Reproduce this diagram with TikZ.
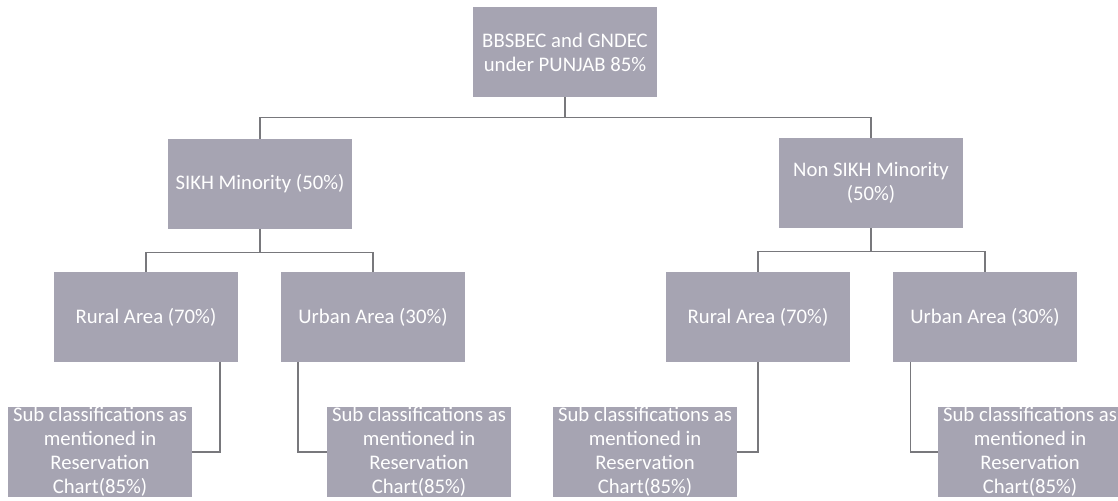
\documentclass[tikz,border=0pt]{standalone}
\usepackage{fontspec}
\setmainfont{Carlito}
\usepackage{xcolor}
\usetikzlibrary{positioning}

\definecolor{boxgrey}{RGB}{166,164,178}
\definecolor{linegrey}{RGB}{120,120,124}

\begin{document}
\begin{tikzpicture}[
          x=0.02cm, y=-0.02cm,
          every node/.style={fill=boxgrey, text=white, align=center,
            minimum width=3.68cm, minimum height=1.8cm, inner sep=0pt,
            font=\fontsize{11.8}{13.6}\selectfont},
          link/.style={draw=linegrey, line width=0.6pt}
        ]
          \useasboundingbox (0,0) rectangle (1118,500);
          % top
          \node (root) at (565,52) {BBSBEC and GNDEC\\under PUNJAB 85\%};
          % minority level
          \node (sikh) at (260,184) {SIKH Minority (50\%)};
          \node (nonsikh) at (871,183) {Non SIKH Minority\\(50\%)};
          % area level
          \node (ruralA) at (146,317) {Rural Area (70\%)};
          \node (urbanA) at (373,317) {Urban Area (30\%)};
          \node (ruralB) at (758,317) {Rural Area (70\%)};
          \node (urbanB) at (985,317) {Urban Area (30\%)};
          % sub classifications
          \node (subA) at (100,452) {Sub classifications as\\mentioned in\\Reservation\\Chart(85\%)};
          \node (subB) at (419,452) {Sub classifications as\\mentioned in\\Reservation\\Chart(85\%)};
          \node (subC) at (645,452) {Sub classifications as\\mentioned in\\Reservation\\Chart(85\%)};
          \node (subD) at (1030,452) {Sub classifications as\\mentioned in\\Reservation\\Chart(85\%)};

          \draw[link] (root.south) -- ++(0cm,-0.4cm) -| (sikh.north);
          \draw[link] (root.south) -- ++(0cm,-0.4cm) -| (nonsikh.north);
          \draw[link] (sikh.south) -- ++(0cm,-0.46cm) -| (ruralA.north);
          \draw[link] (sikh.south) -- ++(0cm,-0.46cm) -| (urbanA.north);
          \draw[link] (nonsikh.south) -- ++(0cm,-0.46cm) -| (ruralB.north);
          \draw[link] (nonsikh.south) -- ++(0cm,-0.46cm) -| (urbanB.north);
          \draw[link] ([xshift=1.48cm]ruralA.south) |- (subA.east);
          \draw[link] ([xshift=-1.5cm]urbanA.south) |- (subB.west);
          \draw[link] (ruralB.south) |- (subC.east);
          \draw[link] ([xshift=-1.5cm]urbanB.south) |- (subD.west);
        \end{tikzpicture}
\end{document}
